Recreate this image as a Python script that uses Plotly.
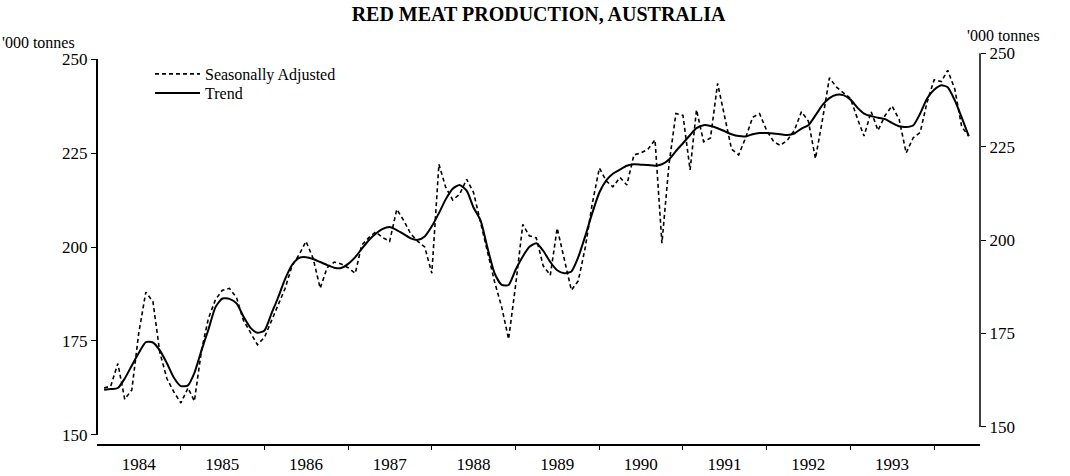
import pandas as pd
import plotly.graph_objects as go

# ---- data (monthly, '000 tonnes) ----
start_month = "1984-02-01"

seasonally_adjusted = [
    162.5, 163.0, 169.0, 159.5, 162.0, 177.0, 188.0, 185.5, 172.0, 165.0, 161.5,   # 1984 Feb-Dec
    158.5, 162.5, 159.0, 172.5, 181.0, 186.0, 188.5, 189.0, 186.5, 180.5, 177.0, 174.0,  # 1985
    176.0, 180.5, 184.5, 189.0, 195.0, 198.0, 201.5, 197.0, 189.0, 194.5, 196.0, 195.5,  # 1986
    194.5, 193.0, 200.5, 202.5, 204.0, 202.5, 201.5, 210.0, 207.0, 203.5, 201.5, 200.0,  # 1987
    193.0, 222.0, 216.0, 212.5, 214.0, 218.0, 214.5, 206.5, 198.0, 190.7, 184.0, 175.5,  # 1988
    190.0, 206.0, 203.0, 202.4, 195.0, 192.5, 205.0, 197.0, 188.5, 191.0, 200.0, 211.5,  # 1989
    221.0, 217.5, 216.0, 218.5, 216.5, 224.5, 225.0, 226.0, 228.5, 201.0, 222.0, 235.5,  # 1990
    235.0, 220.5, 236.5, 228.0, 229.0, 243.5, 235.0, 226.0, 224.5, 229.0, 234.5, 235.5,  # 1991
    231.0, 228.0, 227.0, 228.5, 231.0, 236.0, 233.5, 223.5, 234.0, 245.0, 242.5, 241.0,  # 1992
    239.5, 234.0, 229.5, 236.0, 231.0, 235.0, 237.5, 234.0, 225.0, 229.0, 230.5, 238.5,  # 1993
    244.5, 244.0, 247.0, 242.0, 232.0, 229.5,                                            # 1994
]

trend = [
    162.0, 162.2, 162.5, 165.0, 168.5, 171.8, 174.7, 174.6, 172.5, 169.1, 165.3,
    163.0, 163.2, 166.5, 172.5, 178.0, 184.0, 186.3, 186.2, 185.0, 181.5, 178.5, 177.2,
    177.8, 182.4, 186.5, 191.5, 195.2, 197.1, 197.3, 196.8, 196.0, 195.2, 194.5, 194.4,
    195.5, 197.3, 199.5, 201.8, 203.5, 204.8, 205.3, 204.5, 203.4, 202.3, 201.9, 202.8,
    205.5, 209.0, 212.6, 215.5, 216.5, 215.0, 210.5, 207.0, 199.5, 193.0, 189.9, 189.9,
    194.0, 197.5, 200.0, 201.0, 199.0, 196.0, 193.8, 193.0, 193.5, 197.3, 203.0, 209.0,
    214.5, 217.8, 219.5, 220.6, 221.6, 222.0, 221.9, 221.8, 221.6, 222.0, 223.3, 225.5,
    227.6, 229.8, 231.6, 232.4, 232.2, 231.6, 230.8, 230.0, 229.5, 229.4, 230.0, 230.3,
    230.3, 230.2, 230.0, 229.8, 230.2, 231.5, 232.4, 235.0, 237.8, 239.6, 240.5, 240.4,
    239.2, 237.0, 235.5, 234.8, 234.4, 234.0, 233.0, 232.1, 231.9, 232.3, 235.5, 239.5,
    241.8, 243.0, 242.5, 239.0, 234.5, 229.5,
]

year_labels = ["1984", "1985", "1986", "1987", "1988", "1989", "1990", "1991", "1992", "1993"]
y_ticks = [150, 175, 200, 225, 250]

dates = pd.date_range(start_month, periods=len(trend), freq="MS")
label_pos = [f"{y}-07-01" for y in year_labels]
year_bounds = [f"{int(y) + 1}-01-01" for y in year_labels]

SERIF = "Liberation Serif, Times New Roman, serif"

fig = go.Figure()
fig.add_trace(go.Scatter(
    x=dates, y=seasonally_adjusted, mode="lines", name="Seasonally Adjusted",
    line=dict(color="black", width=1.6, dash="4px,3px"), legend="legend",
))
fig.add_trace(go.Scatter(
    x=dates, y=trend, mode="lines", name="Trend",
    line=dict(color="black", width=2, shape="spline", smoothing=0.6), legend="legend2",
))

leg_common = dict(xanchor="left", yanchor="middle", bgcolor="rgba(0,0,0,0)",
                  font=dict(family=SERIF, size=16), itemwidth=45, borderwidth=0)

fig.update_layout(
    width=1070, height=476,
    margin=dict(l=97, r=90, t=53, b=32, autoexpand=False),
    paper_bgcolor="white", plot_bgcolor="white",
    font=dict(family=SERIF, color="black", size=17),
    title=dict(text="<b>RED MEAT PRODUCTION, AUSTRALIA</b>", x=0.5, xref="paper",
               xanchor="center", y=1 - 14 / 476, yref="container", yanchor="middle",
               font=dict(family=SERIF, size=20, color="black")),
    showlegend=True,
    legend=dict(x=(150 - 97) / 883, y=(444 - 74) / 391, **leg_common),
    legend2=dict(x=(150 - 97) / 883, y=(444 - 93) / 391, **leg_common),
    xaxis=dict(
        range=["1984-01-01", "1994-07-20"], automargin=False,
        showgrid=False, zeroline=False,
        showline=True, linecolor="black", linewidth=2,
        tickmode="array", tickvals=label_pos, ticktext=year_labels,
        ticks="outside", ticklen=4, tickcolor="rgba(0,0,0,0)",
        tickfont=dict(family=SERIF, size=17),
        minor=dict(tickmode="array", tickvals=year_bounds, ticks="outside",
                   ticklen=4, tickwidth=1, tickcolor="black", showgrid=False),
    ),
    yaxis=dict(
        range=[147.6, 251.6], automargin=False,
        showgrid=False, zeroline=False, showline=False,
        tickmode="array", tickvals=y_ticks,
        ticks="outside", ticklen=5, tickwidth=1, tickcolor="black",
        tickfont=dict(family=SERIF, size=17),
    ),
    yaxis2=dict(
        range=[145.45, 250.05], overlaying="y", side="right", anchor="x", automargin=False,
        showgrid=False, zeroline=False, showline=False,
        tickmode="array", tickvals=y_ticks,
        ticks="outside", ticklen=5, tickwidth=1, tickcolor="black",
        tickfont=dict(family=SERIF, size=17),
    ),
)

# axis lines spanning 150-250 on each side
fig.add_shape(type="line", xref="paper", yref="y", x0=0, x1=0, y0=150, y1=250,
              line=dict(color="black", width=2))
fig.add_shape(type="line", xref="paper", yref="y2", x0=1, x1=1, y0=150, y1=250,
              line=dict(color="black", width=1.5))

fig.add_annotation(text="'000 tonnes", xref="paper", yref="paper",
                   x=-97 / 883, y=(444 - 42) / 391, xanchor="left", yanchor="middle",
                   showarrow=False, font=dict(family=SERIF, size=16))
fig.add_annotation(text="'000 tonnes", xref="paper", yref="paper",
                   x=(965 - 97) / 883, y=(444 - 35) / 391, xanchor="left", yanchor="middle",
                   showarrow=False, font=dict(family=SERIF, size=16))

fig.write_html("out.html", config={"displayModeBar": False},
               post_script="document.body.style.margin='0';")
